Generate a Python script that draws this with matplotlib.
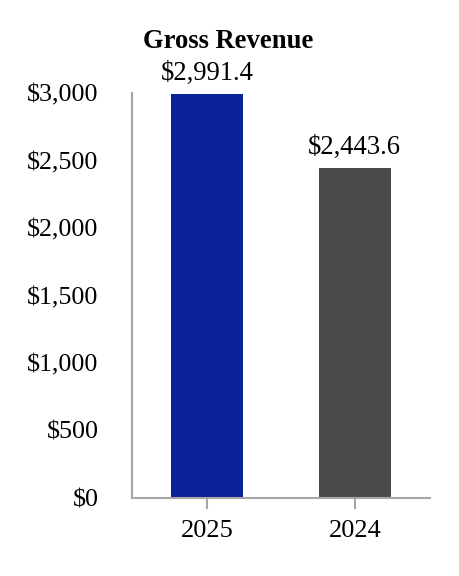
import matplotlib
matplotlib.use("Agg")
import matplotlib.pyplot as plt
from matplotlib.ticker import FuncFormatter

categories = ["2025", "2024"]
values = [2991.4, 2443.6]
colors = ["#0a2299", "#4a4a4a"]
yticks = [0, 500, 1000, 1500, 2000, 2500, 3000]

plt.rcParams['font.family'] = ['Liberation Serif', 'DejaVu Serif']

fig = plt.figure(figsize=(4.6, 5.76), dpi=100)
ax = fig.add_axes([132/460, 1-498/576, (430-132)/460, (498-93)/576])

x = list(range(len(categories)))
bars = ax.bar(x, values, width=0.49, color=colors)
ax.set_xlim(-0.51, 1.51)
ax.set_ylim(0, 3000)
ax.set_yticks(yticks)
ax.yaxis.set_major_formatter(FuncFormatter(lambda v, p: f"${v:,.0f}"))
ax.set_xticks(x)
ax.set_xticklabels(categories)

for s in ["top", "right"]:
    ax.spines[s].set_visible(False)
for s in ["left", "bottom"]:
    ax.spines[s].set_color("#a6a6a6")
    ax.spines[s].set_linewidth(1.5)

ax.tick_params(axis="y", length=0, labelsize=18.7, pad=24)
ax.tick_params(axis="x", length=8, width=1.5, color="#a6a6a6", labelsize=19, pad=7.5)

for xi, v in zip(x, values):
    ax.annotate(f"${v:,.1f}", (xi, v), xytext=(0, 6), textcoords="offset points",
                ha="center", va="bottom", fontsize=19.2)

fig.text(228/460, 1-41/576, "Gross Revenue", ha="center", va="center",
         fontsize=19.2, fontweight="bold")

fig.savefig("out.png", dpi=100)
